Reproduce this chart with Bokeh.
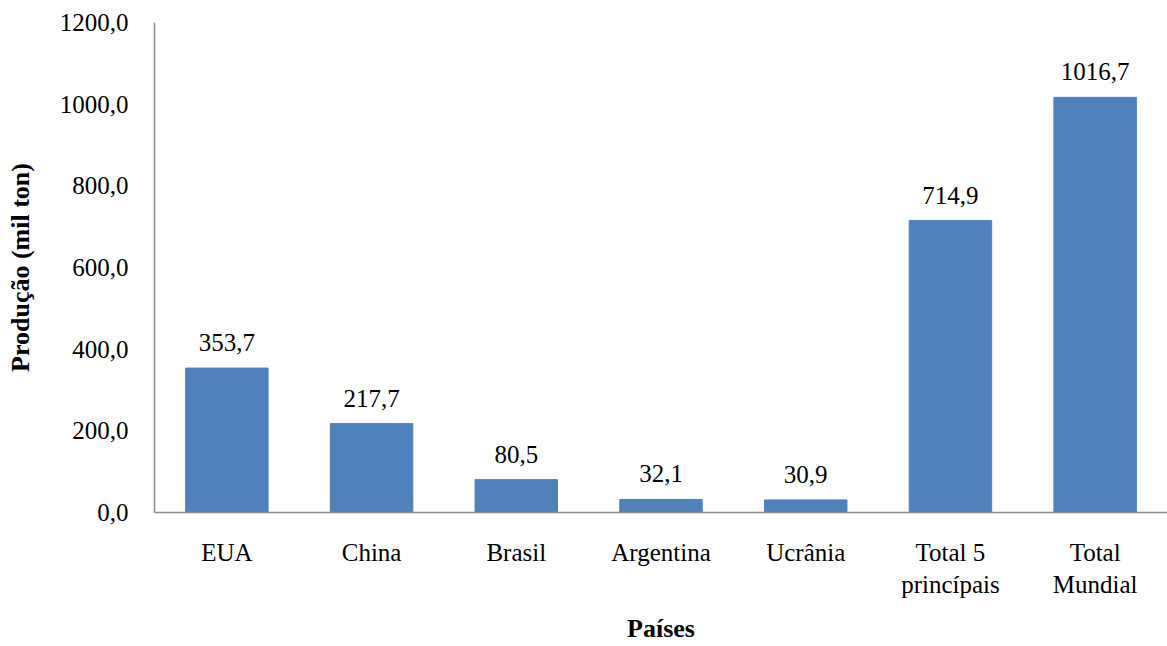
from bokeh.plotting import figure
from bokeh.models import ColumnDataSource, FixedTicker, CustomJSTickFormatter, Range1d, LabelSet
from bokeh.embed import file_html
from bokeh.resources import INLINE

paises = ["EUA", "China", "Brasil", "Argentina", "Ucrânia", "Total 5\nprincípais", "Total\nMundial"]
producao = [353.7, 217.7, 80.5, 32.1, 30.9, 714.9, 1016.7]
y_ticks = [0, 200, 400, 600, 800, 1000, 1200]

FONT = "Liberation Serif"
BAR = "#4F81BD"

source = ColumnDataSource(dict(
    pais=paises,
    valor=producao,
    rotulo=[f"{v:.1f}".replace(".", ",") for v in producao],
))

p = figure(
    x_range=paises, y_range=Range1d(0, 1200),
    width=1167, height=646,
    output_backend="svg", toolbar_location=None,
    min_border_left=154, min_border_right=0, min_border_top=22, min_border_bottom=134,
)

p.vbar(x="pais", top="valor", width=0.57, source=source, color=BAR)

# value labels above each bar
p.add_layout(LabelSet(
    x="pais", y="valor", text="rotulo", source=source,
    text_align="center", text_baseline="alphabetic", y_offset=17,
    text_font=FONT, text_font_size="25px", text_color="black",
))

p.grid.visible = False
p.outline_line_color = None

p.yaxis.ticker = FixedTicker(ticks=y_ticks)
p.yaxis.formatter = CustomJSTickFormatter(code="return tick.toFixed(1).replace('.', ',');")
p.yaxis.axis_label = "Produção (mil ton)"
p.xaxis.axis_label = "Países"

for ax in (p.xaxis[0], p.yaxis[0]):
    ax.axis_line_color = "#8C8C8C"
    ax.axis_line_width = 1.5
    ax.major_tick_line_color = None
    ax.minor_tick_line_color = None
    ax.major_label_text_font = FONT
    ax.major_label_text_font_size = "25px"
    ax.major_label_text_color = "black"
    ax.axis_label_text_font = FONT
    ax.axis_label_text_font_size = "26px"
    ax.axis_label_text_font_style = "bold"
    ax.axis_label_text_color = "black"

p.yaxis.major_label_standoff = 20
p.yaxis.axis_label_standoff = 22
p.xaxis.major_label_standoff = 20
p.xaxis.axis_label_standoff = 13

open("out.html", "w").write(file_html(p, INLINE))
